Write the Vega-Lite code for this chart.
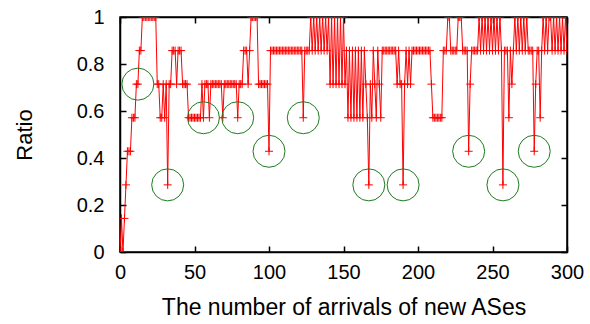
{
  "$schema": "https://vega.github.io/schema/vega-lite/v6.json",
  "width": 447,
  "height": 235,
  "autosize": {"type": "none"},
  "padding": {"left": 120, "top": 17, "right": 23, "bottom": 72},
  "config": {
    "font": "Liberation Sans",
    "view": {"stroke": "black", "strokeWidth": 1.5},
    "axis": {"grid": false, "domainColor": "black", "domainWidth": 1.5, "tickColor": "black", "tickWidth": 1.5, "labelColor": "black", "titleColor": "black", "titleFontWeight": "normal", "labelOverlap": false, "labelFlush": false, "labelBound": false}
  },
  "datasets": {
    "ratio": [
      {"x":0,"y":0},{"x":1,"y":0.1429},{"x":2,"y":0},{"x":3,"y":0.1429},{"x":4,"y":0.2857},{"x":5,"y":0.4286},{"x":6,"y":0.4286},{"x":7,"y":0.4286},{"x":8,"y":0.5714},{"x":9,"y":0.5714},
      {"x":10,"y":0.5714},{"x":11,"y":0.7143},{"x":12,"y":0.7143},{"x":13,"y":0.8571},{"x":14,"y":0.8571},{"x":15,"y":1},{"x":16,"y":1},{"x":17,"y":1},{"x":18,"y":1},{"x":19,"y":1},
      {"x":20,"y":1},{"x":21,"y":1},{"x":22,"y":1},{"x":23,"y":1},{"x":24,"y":1},{"x":25,"y":0.7143},{"x":26,"y":0.7143},{"x":27,"y":0.5714},{"x":28,"y":0.5714},{"x":29,"y":0.7143},
      {"x":30,"y":0.5714},{"x":31,"y":0.7143},{"x":32,"y":0.2857},{"x":33,"y":0.7143},{"x":34,"y":0.7143},{"x":35,"y":0.8571},{"x":36,"y":0.8571},{"x":37,"y":0.8571},{"x":38,"y":0.7143},{"x":39,"y":0.8571},
      {"x":40,"y":0.8571},{"x":41,"y":0.8571},{"x":42,"y":0.7143},{"x":43,"y":0.7143},{"x":44,"y":0.7143},{"x":45,"y":0.7143},{"x":46,"y":0.5714},{"x":47,"y":0.5714},{"x":48,"y":0.5714},{"x":49,"y":0.5714},
      {"x":50,"y":0.5714},{"x":51,"y":0.5714},{"x":52,"y":0.5714},{"x":53,"y":0.5714},{"x":54,"y":0.5714},{"x":55,"y":0.7143},{"x":56,"y":0.5714},{"x":57,"y":0.7143},{"x":58,"y":0.7143},{"x":59,"y":0.7143},
      {"x":60,"y":0.5714},{"x":61,"y":0.7143},{"x":62,"y":0.7143},{"x":63,"y":0.7143},{"x":64,"y":0.7143},{"x":65,"y":0.7143},{"x":66,"y":0.7143},{"x":67,"y":0.7143},{"x":68,"y":0.7143},{"x":69,"y":0.5714},
      {"x":70,"y":0.7143},{"x":71,"y":0.7143},{"x":72,"y":0.7143},{"x":73,"y":0.7143},{"x":74,"y":0.7143},{"x":75,"y":0.7143},{"x":76,"y":0.7143},{"x":77,"y":0.7143},{"x":78,"y":0.7143},{"x":79,"y":0.5714},
      {"x":80,"y":0.7143},{"x":81,"y":0.7143},{"x":82,"y":0.7143},{"x":83,"y":0.8571},{"x":84,"y":0.8571},{"x":85,"y":0.8571},{"x":86,"y":0.7143},{"x":87,"y":0.8571},{"x":88,"y":1},{"x":89,"y":1},
      {"x":90,"y":1},{"x":91,"y":1},{"x":92,"y":1},{"x":93,"y":0.7143},{"x":94,"y":0.7143},{"x":95,"y":0.7143},{"x":96,"y":0.7143},{"x":97,"y":0.7143},{"x":98,"y":0.7143},{"x":99,"y":0.7143},
      {"x":100,"y":0.4286},{"x":101,"y":0.8571},{"x":102,"y":0.8571},{"x":103,"y":0.8571},{"x":104,"y":0.8571},{"x":105,"y":0.8571},{"x":106,"y":0.8571},{"x":107,"y":0.8571},{"x":108,"y":0.8571},{"x":109,"y":0.8571},
      {"x":110,"y":0.8571},{"x":111,"y":0.8571},{"x":112,"y":0.8571},{"x":113,"y":0.8571},{"x":114,"y":0.8571},{"x":115,"y":0.8571},{"x":116,"y":0.8571},{"x":117,"y":0.8571},{"x":118,"y":0.8571},{"x":119,"y":0.8571},
      {"x":120,"y":0.8571},{"x":121,"y":0.8571},{"x":122,"y":0.8571},{"x":123,"y":0.5714},{"x":124,"y":0.8571},{"x":125,"y":0.8571},{"x":126,"y":0.8571},{"x":127,"y":0.8571},{"x":128,"y":1},{"x":129,"y":0.8571},
      {"x":130,"y":1},{"x":131,"y":0.8571},{"x":132,"y":1},{"x":133,"y":0.8571},{"x":134,"y":1},{"x":135,"y":0.8571},{"x":136,"y":1},{"x":137,"y":0.8571},{"x":138,"y":1},{"x":139,"y":0.8571},
      {"x":140,"y":1},{"x":141,"y":0.7143},{"x":142,"y":1},{"x":143,"y":0.7143},{"x":144,"y":1},{"x":145,"y":0.7143},{"x":146,"y":1},{"x":147,"y":0.7143},{"x":148,"y":1},{"x":149,"y":0.7143},
      {"x":150,"y":1},{"x":151,"y":0.7143},{"x":152,"y":0.8571},{"x":153,"y":0.5714},{"x":154,"y":0.8571},{"x":155,"y":0.5714},{"x":156,"y":0.8571},{"x":157,"y":0.5714},{"x":158,"y":0.8571},{"x":159,"y":0.5714},
      {"x":160,"y":0.8571},{"x":161,"y":0.5714},{"x":162,"y":0.8571},{"x":163,"y":0.5714},{"x":164,"y":0.8571},{"x":165,"y":0.7143},{"x":166,"y":0.5714},{"x":167,"y":0.2857},{"x":168,"y":0.7143},{"x":169,"y":0.5714},
      {"x":170,"y":0.8571},{"x":171,"y":0.7143},{"x":172,"y":0.5714},{"x":173,"y":0.8571},{"x":174,"y":0.7143},{"x":175,"y":0.5714},{"x":176,"y":0.8571},{"x":177,"y":0.8571},{"x":178,"y":0.8571},{"x":179,"y":0.8571},
      {"x":180,"y":0.8571},{"x":181,"y":0.8571},{"x":182,"y":0.8571},{"x":183,"y":0.8571},{"x":184,"y":0.8571},{"x":185,"y":0.8571},{"x":186,"y":0.7143},{"x":187,"y":0.8571},{"x":188,"y":0.7143},{"x":189,"y":0.7143},
      {"x":190,"y":0.2857},{"x":191,"y":0.7143},{"x":192,"y":0.8571},{"x":193,"y":0.7143},{"x":194,"y":0.8571},{"x":195,"y":0.7143},{"x":196,"y":0.8571},{"x":197,"y":0.8571},{"x":198,"y":0.8571},{"x":199,"y":0.8571},
      {"x":200,"y":0.8571},{"x":201,"y":0.8571},{"x":202,"y":0.8571},{"x":203,"y":0.8571},{"x":204,"y":0.8571},{"x":205,"y":0.8571},{"x":206,"y":0.8571},{"x":207,"y":0.8571},{"x":208,"y":0.8571},{"x":209,"y":0.7143},
      {"x":210,"y":0.5714},{"x":211,"y":0.5714},{"x":212,"y":0.5714},{"x":213,"y":0.5714},{"x":214,"y":0.5714},{"x":215,"y":0.5714},{"x":216,"y":0.5714},{"x":217,"y":0.8571},{"x":218,"y":0.8571},{"x":219,"y":0.8571},
      {"x":220,"y":1},{"x":221,"y":1},{"x":222,"y":0.8571},{"x":223,"y":0.8571},{"x":224,"y":0.8571},{"x":225,"y":0.8571},{"x":226,"y":0.8571},{"x":227,"y":1},{"x":228,"y":1},{"x":229,"y":1},
      {"x":230,"y":0.8571},{"x":231,"y":0.8571},{"x":232,"y":0.8571},{"x":233,"y":0.8571},{"x":234,"y":0.4286},{"x":235,"y":0.7143},{"x":236,"y":0.8571},{"x":237,"y":0.8571},{"x":238,"y":0.8571},{"x":239,"y":0.8571},
      {"x":240,"y":0.8571},{"x":241,"y":1},{"x":242,"y":0.8571},{"x":243,"y":1},{"x":244,"y":0.8571},{"x":245,"y":1},{"x":246,"y":0.8571},{"x":247,"y":1},{"x":248,"y":0.8571},{"x":249,"y":1},
      {"x":250,"y":0.8571},{"x":251,"y":1},{"x":252,"y":0.8571},{"x":253,"y":1},{"x":254,"y":0.8571},{"x":255,"y":1},{"x":256,"y":0.8571},{"x":257,"y":0.2857},{"x":258,"y":0.8571},{"x":259,"y":0.8571},
      {"x":260,"y":0.8571},{"x":261,"y":0.5714},{"x":262,"y":0.8571},{"x":263,"y":0.7143},{"x":264,"y":0.8571},{"x":265,"y":1},{"x":266,"y":0.8571},{"x":267,"y":1},{"x":268,"y":0.8571},{"x":269,"y":1},
      {"x":270,"y":0.8571},{"x":271,"y":1},{"x":272,"y":0.8571},{"x":273,"y":1},{"x":274,"y":0.8571},{"x":275,"y":0.8571},{"x":276,"y":0.8571},{"x":277,"y":0.8571},{"x":278,"y":0.4286},{"x":279,"y":0.7143},
      {"x":280,"y":0.8571},{"x":281,"y":0.8571},{"x":282,"y":0.5714},{"x":283,"y":0.8571},{"x":284,"y":1},{"x":285,"y":0.8571},{"x":286,"y":1},{"x":287,"y":0.8571},{"x":288,"y":1},{"x":289,"y":1},
      {"x":290,"y":0.8571},{"x":291,"y":1},{"x":292,"y":0.8571},{"x":293,"y":1},{"x":294,"y":0.8571},{"x":295,"y":1},{"x":296,"y":0.8571},{"x":297,"y":1},{"x":298,"y":0.8571},{"x":299,"y":1},
      {"x":300,"y":0.8571}
    ],
    "circles": [
      {"x":12,"y":0.7143},{"x":32,"y":0.2857},{"x":56,"y":0.5714},{"x":79,"y":0.5714},{"x":100,"y":0.4286},{"x":123,"y":0.5714},
      {"x":167,"y":0.2857},{"x":190,"y":0.2857},{"x":234,"y":0.4286},{"x":257,"y":0.2857},{"x":278,"y":0.4286}
    ]
  },
  "layer": [
    {
      "data": {"name": "ratio"},
      "mark": {"type": "line", "color": "#ff0000", "strokeWidth": 1, "clip": true},
      "encoding": {
        "x": {"field": "x", "type": "quantitative", "scale": {"domain": [0, 300], "nice": false, "zero": false},
              "axis": {"orient": "bottom", "values": [0,50,100,150,200,250,300], "format": "d", "tickSize": -6, "labelPadding": 16, "labelFontSize": 20, "title": "The number of arrivals of new ASes", "titleFontSize": 23, "titlePadding": 14}},
        "y": {"field": "y", "type": "quantitative", "scale": {"domain": [0, 1], "nice": false},
              "axis": {"orient": "left", "values": [0,0.2,0.4,0.6,0.8,1], "format": ".1~f", "tickSize": -6, "labelPadding": 22, "labelFontSize": 20, "title": "Ratio", "titleFontSize": 22, "titlePadding": 40}}
      }
    },
    {
      "data": {"name": "ratio"},
      "mark": {"type": "point", "shape": "M-1,0H1M0,-1V1", "size": 64, "filled": false, "stroke": "#ff0000", "strokeWidth": 1, "opacity": 1, "clip": true},
      "encoding": {
        "x": {"field": "x", "type": "quantitative", "axis": {"orient": "top", "values": [0,50,100,150,200,250,300], "tickSize": -6, "labels": false, "title": null}},
        "y": {"field": "y", "type": "quantitative", "axis": {"orient": "right", "values": [0,0.2,0.4,0.6,0.8,1], "tickSize": -6, "labels": false, "title": null}}
      }
    },
    {
      "data": {"name": "circles"},
      "mark": {"type": "point", "shape": "circle", "size": 1024, "filled": false, "stroke": "#1e7b1e", "strokeWidth": 1, "opacity": 1},
      "encoding": {
        "x": {"field": "x", "type": "quantitative", "axis": null},
        "y": {"field": "y", "type": "quantitative", "axis": null}
      }
    }
  ]
}
